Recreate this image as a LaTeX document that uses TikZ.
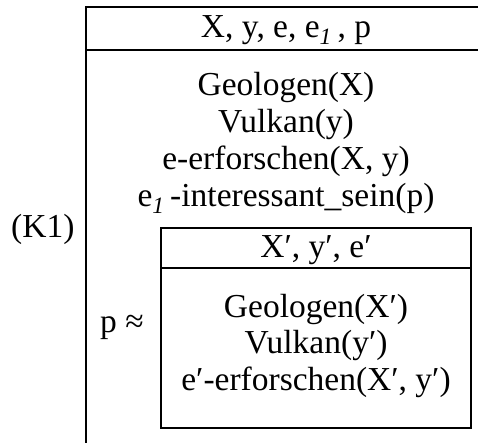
\documentclass[tikz,border=0pt]{standalone}
\usepackage{fontspec}
\setmainfont{Liberation Serif}
\begin{document}
\begin{tikzpicture}[x=1pt,y=-1pt,
  frame/.style={line width=2pt},
  txt/.style={inner sep=0pt,anchor=base,font=\fontsize{33.5}{40}\selectfont}]
\useasboundingbox (0,0) rectangle (478,443);
% outer box (open on the right and bottom)
\coordinate (otl) at (86,7);
\coordinate (otr) at (478,7);
\coordinate (obl) at (86,443);
\coordinate (osl) at (86,50);
\coordinate (osr) at (478,50);
\draw[frame] (otr) -- (otl) -- (obl);
\draw[frame] (osl) -- (osr);
\node[txt] (vars) at (286,38) {X, y, e, e\textsubscript{\textit{1}}\,, p};
\node[txt] (c1) at (286,96) {Geologen(X)};
\node[txt] (c2) at (286,133) {Vulkan(y)};
\node[txt] (c3) at (286,170) {e-erforschen(X, y)};
\node[txt] (c4) at (286,207) {e\textsubscript{\textit{1}}\,-interessant\_sein(p)};
\node[txt,anchor=base west] (lab) at (11,237) {(K1)};
% embedded box
\node[draw,frame,minimum width=310pt,minimum height=200pt,inner sep=0pt] (inner) at (316,328) {};
\draw[frame] ([yshift=-41pt]inner.north west) coordinate (isl) -- ([yshift=-41pt]inner.north east) coordinate (isr);
\node[txt] (ivars) at (316,257) {X′, y′, e′};
\node[txt] (d1) at (316,317) {Geologen(X′)};
\node[txt] (d2) at (316,353) {Vulkan(y′)};
\node[txt] (d3) at (316,390) {e′-erforschen(X′, y′)};
\node[txt,anchor=base west] (pap) at (100,332) {p ≈};
\end{tikzpicture}
\end{document}
